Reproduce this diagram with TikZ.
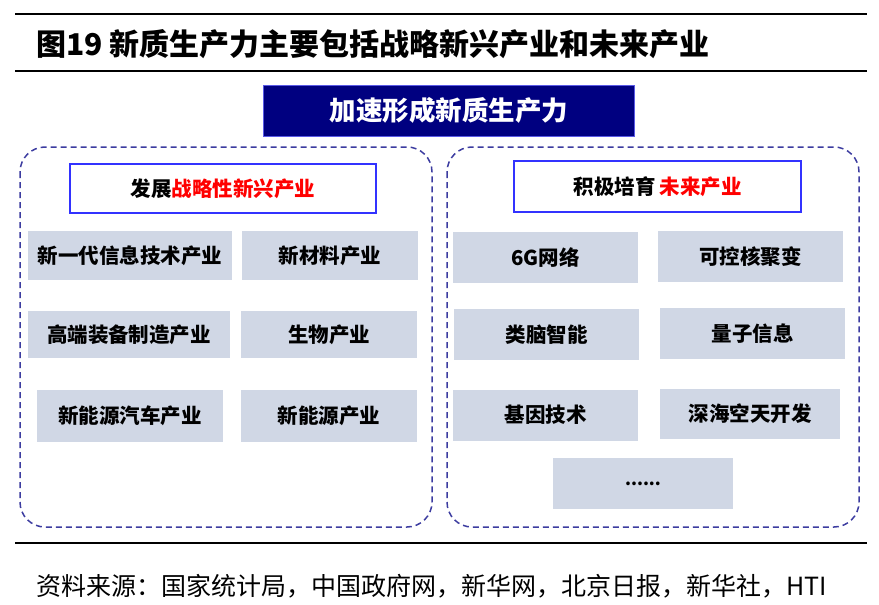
\documentclass[tikz,border=0pt]{standalone}
\usepackage{fontspec}
\setmainfont{Noto Sans CJK SC}
\definecolor{navy}{RGB}{0,0,128}
\definecolor{navyedge}{RGB}{90,90,230}
\definecolor{panelblue}{RGB}{60,60,160}
\definecolor{headblue}{RGB}{50,50,255}
\definecolor{itemgray}{RGB}{208,215,229}
\newcommand\titlefont{\fontsize{30}{32}\selectfont\bfseries}
\newcommand\topfont{\fontsize{26.5}{28}\selectfont\bfseries}
\newcommand\headfont{\fontsize{20.5}{22}\selectfont\bfseries}
\newcommand\itemfont{\fontsize{20.5}{22}\selectfont\bfseries}
\newcommand\notefont{\fontsize{25}{27}\selectfont}

\begin{document}
\begin{tikzpicture}[x=1pt, y=-1pt,
  rule/.style={line width=2.5pt},
  panel/.style={draw=panelblue, line width=1.5pt, dash pattern=on 6pt off 4pt, rounded corners=25pt},
  topbox/.style={draw=navyedge, line width=1pt, fill=navy, text=white, inner sep=0pt, font=\topfont},
  head/.style={draw=headblue, line width=1.2pt, fill=white, inner sep=0pt, font=\headfont},
  item/.style={fill=itemgray, inner sep=0pt, font=\itemfont}]
  \useasboundingbox (0,0) rectangle (879,605);

  \draw[rule] (15,14) -- (867,14);
  \draw[rule] (15,71) -- (867,71);
  \draw[rule] (15,543) -- (867,543);

  \node[anchor=west, inner sep=0pt, font=\titlefont] (title) at (36,44)
    {图19 新质生产力主要包括战略新兴产业和未来产业};
  \node[topbox, minimum width=371, minimum height=51] (goal) at (449,110.5)
    {\raisebox{-2pt}{加速形成新质生产力}};

  \draw[panel] (20,147) rectangle (432,527);
  \draw[panel] (447,147) rectangle (859,527);

  \node[head, minimum width=306, minimum height=49] (zlxx) at (223,188.5)
    {发展\textcolor{red}{战略性新兴产业}};
  \node[head, minimum width=287, minimum height=51] (wlcy) at (657.5,186.5)
    {积极培育\hspace{4pt}\textcolor{red}{未来产业}};

  \node[item, minimum width=204, minimum height=49] (xxjs) at (130,255.5) {新一代信息技术产业};
  \node[item, minimum width=176, minimum height=49] (xcl)  at (330,255.5) {新材料产业};
  \node[item, minimum width=202, minimum height=47] (gdzb) at (129,334.5) {高端装备制造产业};
  \node[item, minimum width=176, minimum height=47] (swcy) at (329,334.5) {生物产业};
  \node[item, minimum width=186, minimum height=52] (xnqc) at (130,416)   {新能源汽车产业};
  \node[item, minimum width=176, minimum height=52] (xny)  at (329,416)   {新能源产业};

  \node[item, minimum width=185, minimum height=51] (wl6g) at (545.5,257.5) {6G网络};
  \node[item, minimum width=185, minimum height=51] (hjb)  at (750.5,256.5) {可控核聚变};
  \node[item, minimum width=185, minimum height=51] (lnzn) at (546.5,334.5) {类脑智能};
  \node[item, minimum width=185, minimum height=51] (lzxx) at (752.5,333.5) {量子信息};
  \node[item, minimum width=185, minimum height=51] (jyjs) at (545.5,415)   {基因技术};
  \node[item, minimum width=180, minimum height=50] (shkt) at (750,414)     {深海空天开发};
  \node[item, minimum width=180, minimum height=51, font=\fontsize{17}{19}\selectfont\bfseries] (more) at (643,483.5) {......};

  \node[anchor=west, inner sep=0pt, font=\notefont] (note) at (36,586)
    {资料来源：国家统计局，中国政府网，新华网，北京日报，新华社，HTI};
\end{tikzpicture}
\end{document}
